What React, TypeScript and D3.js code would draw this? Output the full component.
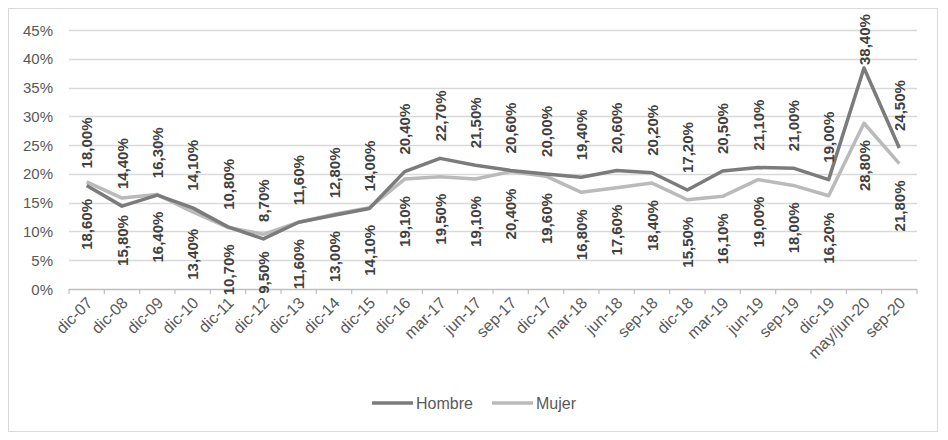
import React from 'react';
import * as d3 from 'd3';

const categories = [
  'dic-07', 'dic-08', 'dic-09', 'dic-10', 'dic-11', 'dic-12', 'dic-13', 'dic-14',
  'dic-15', 'dic-16', 'mar-17', 'jun-17', 'sep-17', 'dic-17', 'mar-18', 'jun-18',
  'sep-18', 'dic-18', 'mar-19', 'jun-19', 'sep-19', 'dic-19', 'may/jun-20', 'sep-20',
];

const hombre = [
  18.0, 14.4, 16.3, 14.1, 10.8, 8.7, 11.6, 12.8, 14.0, 20.4, 22.7, 21.5,
  20.6, 20.0, 19.4, 20.6, 20.2, 17.2, 20.5, 21.1, 21.0, 19.0, 38.4, 24.5,
];

const mujer = [
  18.6, 15.8, 16.4, 13.4, 10.7, 9.5, 11.6, 13.0, 14.1, 19.1, 19.5, 19.1,
  20.4, 19.6, 16.8, 17.6, 18.4, 15.5, 16.1, 19.0, 18.0, 16.2, 28.8, 21.8,
];

const yTicks = [0, 5, 10, 15, 20, 25, 30, 35, 40, 45];

const W = 948;
const H = 440;
const FONT = '"Liberation Sans", Arial, sans-serif';

const fmt = (v: number) => v.toFixed(2).replace('.', ',') + '%';

export default function App() {
  const x = d3.scaleBand<string>().domain(categories).range([69, 917]);
  const y = d3.scaleLinear().domain([0, 45]).range([289, 30]);
  const cx = (c: string) => (x(c) as number) + x.bandwidth() / 2;

  const line = d3
    .line<number>()
    .x((_, i) => cx(categories[i]))
    .y((d) => y(d));

  const labelOffset = 17;
  const labelLen = 52;

  return (
    <svg
      width={W}
      height={H}
      style={{ position: 'absolute', left: 0, top: 0, display: 'block' }}
      fontFamily={FONT}
    >
      <rect x={0} y={0} width={W} height={H} fill="#fff" />
      <rect x={8.5} y={8.5} width={929} height={423} fill="none" stroke="#d9d9d9" />

      {/* gridlines + y labels */}
      {yTicks.map((t) => (
        <g key={t}>
          <line
            x1={69}
            x2={917}
            y1={Math.round(y(t)) + 0.5}
            y2={Math.round(y(t)) + 0.5}
            stroke={t === 0 ? '#bfbfbf' : '#d9d9d9'}
            strokeWidth={1.3}
          />
          <text
            x={53}
            y={y(t)}
            textAnchor="end"
            dominantBaseline="central"
            fontSize={15}
            fill="#595959"
          >
            {t}%
          </text>
        </g>
      ))}

      {/* x ticks */}
      {d3.range(categories.length + 1).map((i) => {
        const xx = 69 + i * x.bandwidth();
        return (
          <line key={i} x1={xx} x2={xx} y1={289} y2={294} stroke="#bfbfbf" strokeWidth={1.2} />
        );
      })}

      {/* x labels */}
      {categories.map((c) => (
        <text
          key={c}
          transform={`translate(${cx(c) + 3},${300}) rotate(-45)`}
          textAnchor="end"
          dominantBaseline="central"
          fontSize={16}
          fill="#595959"
        >
          {c}
        </text>
      ))}

      {/* lines */}
      <path d={line(mujer) || ''} fill="none" stroke="#bababa" strokeWidth={3.5} strokeLinejoin="round" />
      <path d={line(hombre) || ''} fill="none" stroke="#7b7b7b" strokeWidth={3.5} strokeLinejoin="round" />

      {/* data labels: Hombre above */}
      {hombre.map((v, i) => {
        const px = cx(categories[i]);
        let bottom = y(v) - labelOffset;
        if (bottom - labelLen < 13) bottom = 13 + labelLen;
        return (
          <text
            key={'h' + i}
            transform={`translate(${px},${bottom}) rotate(-90)`}
            textAnchor="start"
            dominantBaseline="central"
            fontSize={15}
            fontWeight="bold"
            fill="#404040"
          >
            {fmt(v)}
          </text>
        );
      })}

      {/* data labels: Mujer below */}
      {mujer.map((v, i) => {
        const px = cx(categories[i]);
        const top = y(v) + labelOffset;
        return (
          <text
            key={'m' + i}
            transform={`translate(${px},${top}) rotate(-90)`}
            textAnchor="end"
            dominantBaseline="central"
            fontSize={15}
            fontWeight="bold"
            fill="#404040"
          >
            {fmt(v)}
          </text>
        );
      })}

      {/* legend */}
      <g>
        <line x1={372} x2={413} y1={403} y2={403} stroke="#7b7b7b" strokeWidth={3.5} />
        <text x={416} y={403} dominantBaseline="central" fontSize={16} fill="#595959">
          Hombre
        </text>
        <line x1={492} x2={533} y1={403} y2={403} stroke="#bababa" strokeWidth={3.5} />
        <text x={536} y={403} dominantBaseline="central" fontSize={16} fill="#595959">
          Mujer
        </text>
      </g>
    </svg>
  );
}
